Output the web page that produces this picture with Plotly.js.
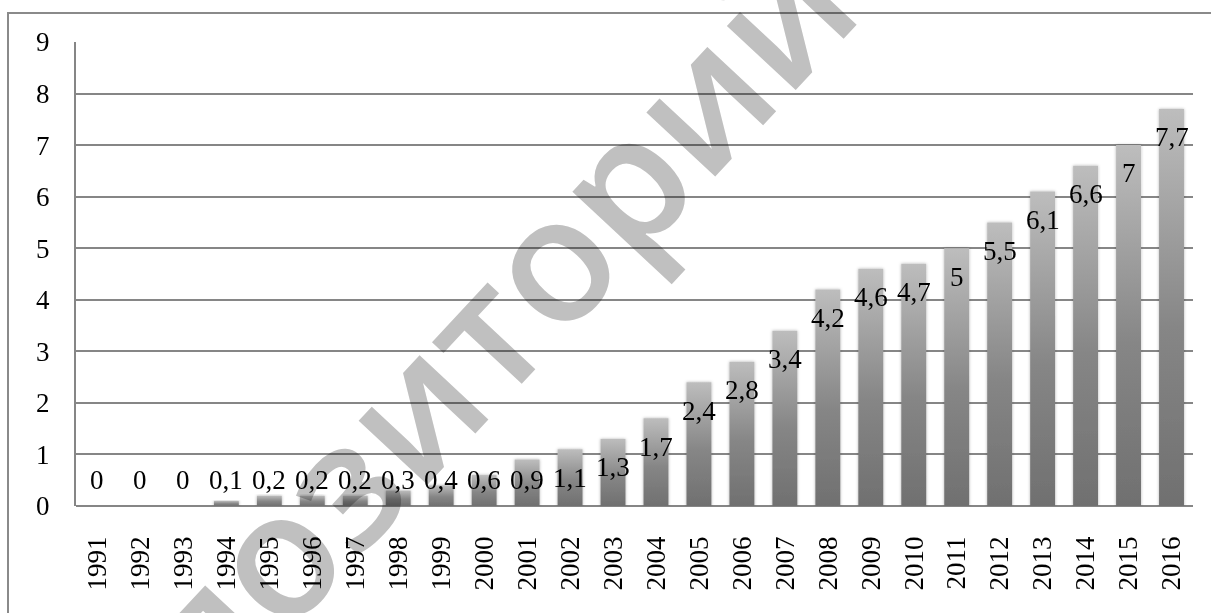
<!DOCTYPE html>
<html>
<head>
<meta charset="utf-8">
<script src="https://cdn.plot.ly/plotly-3.0.1.min.js"></script>
<style>
  html, body { margin: 0; padding: 0; width: 1211px; height: 613px; overflow: hidden; background: #fff; }
  #frame { position: absolute; left: 7px; top: 12px; width: 1240px; height: 660px; border: 2px solid #8a8a8a; }
  #chart { position: absolute; left: 0; top: 0; width: 1211px; height: 613px; }
</style>
</head>
<body>
<div id="frame"></div>
<div id="chart"></div>
<script>
const years = ['1991','1992','1993','1994','1995','1996','1997','1998','1999','2000','2001','2002','2003',
               '2004','2005','2006','2007','2008','2009','2010','2011','2012','2013','2014','2015','2016'];
const values = [0, 0, 0, 0.1, 0.2, 0.2, 0.2, 0.3, 0.4, 0.6, 0.9, 1.1, 1.3,
                1.7, 2.4, 2.8, 3.4, 4.2, 4.6, 4.7, 5, 5.5, 6.1, 6.6, 7, 7.7];
const yTicks = [0, 1, 2, 3, 4, 5, 6, 7, 8, 9];
const watermarkText = 'репозиторий';

const FONT = 'Liberation Serif, Times New Roman, serif';
const FS = 27;
const GRID = '#868686';

const labelAnnotations = years.map((yr, i) => ({
  x: i, y: Math.max(values[i] - 0.55, 0.5), xref: 'x', yref: 'y',
  text: String(values[i]).replace('.', ','),
  showarrow: false, xanchor: 'center', yanchor: 'middle',
  font: { family: FONT, size: FS, color: '#000' }
}));

const watermark = {
  xref: 'paper', yref: 'paper', x: 0.305, y: 0.234,
  text: watermarkText, textangle: -47, showarrow: false,
  xanchor: 'center', yanchor: 'middle',
  font: { family: 'Open Sans, sans-serif', size: 174, weight: 600, color: '#c0c0c0' }
};

const trace = {
  type: 'bar', x: years, y: values,
  marker: { color: '#8e8e8e', line: { width: 0 } },
  hoverinfo: 'skip'
};

const layout = {
  width: 1211, height: 613,
  margin: { l: 76, r: 18, t: 42, b: 107, pad: 0 },
  paper_bgcolor: 'rgba(0,0,0,0)', plot_bgcolor: 'rgba(0,0,0,0)',
  bargap: 0.42,
  showlegend: false,
  font: { family: FONT, size: FS, color: '#000' },
  xaxis: {
    type: 'category', range: [-0.5, years.length - 0.5], autorange: false,
    tickangle: -90, showgrid: false,
    showline: false, zeroline: false, ticks: '',
    ticklabelstandoff: 24,
    tickfont: { family: FONT, size: FS, color: '#000' }
  },
  yaxis: {
    range: [0, 9], autorange: false, tickvals: yTicks, ticktext: yTicks.map(String),
    showgrid: true, gridcolor: GRID, gridwidth: 2,
    showline: true, linecolor: GRID, linewidth: 2,
    zeroline: true, zerolinecolor: GRID, zerolinewidth: 2.5,
    ticks: '', ticklabelstandoff: 19,
    tickfont: { family: FONT, size: FS, color: '#000' }
  },
  annotations: [watermark].concat(labelAnnotations)
};

Plotly.newPlot('chart', [trace], layout, { staticPlot: true, displayModeBar: false }).then(gd => {
  const svg = gd.querySelector('.main-svg');
  const NS = 'http://www.w3.org/2000/svg';
  let defs = svg.querySelector('defs');
  if (!defs) { defs = document.createElementNS(NS, 'defs'); svg.insertBefore(defs, svg.firstChild); }
  const grad = document.createElementNS(NS, 'linearGradient');
  grad.setAttribute('id', 'barGrad');
  grad.setAttribute('x1', '0'); grad.setAttribute('y1', '1');
  grad.setAttribute('x2', '0'); grad.setAttribute('y2', '0');
  [['0', '#707070'], ['0.45', '#868686'], ['1', '#bdbdbd']].forEach(([o, c]) => {
    const s = document.createElementNS(NS, 'stop');
    s.setAttribute('offset', o); s.setAttribute('stop-color', c);
    grad.appendChild(s);
  });
  defs.appendChild(grad);
  const filt = document.createElementNS(NS, 'filter');
  filt.setAttribute('id', 'barShadow');
  filt.setAttribute('x', '-30%'); filt.setAttribute('y', '-10%');
  filt.setAttribute('width', '160%'); filt.setAttribute('height', '120%');
  const ds = document.createElementNS(NS, 'feDropShadow');
  ds.setAttribute('dx', '0'); ds.setAttribute('dy', '0');
  ds.setAttribute('stdDeviation', '1.5');
  ds.setAttribute('flood-color', '#000'); ds.setAttribute('flood-opacity', '0.3');
  filt.appendChild(ds);
  defs.appendChild(filt);
  gd.querySelectorAll('.trace.bars .point path').forEach(p => {
    p.style.fill = 'url(#barGrad)';
    p.setAttribute('filter', 'url(#barShadow)');
  });
  const ann = gd.querySelectorAll('.annotation');
  if (ann.length) ann[0].style.mixBlendMode = 'multiply';
});
</script>
</body>
</html>
